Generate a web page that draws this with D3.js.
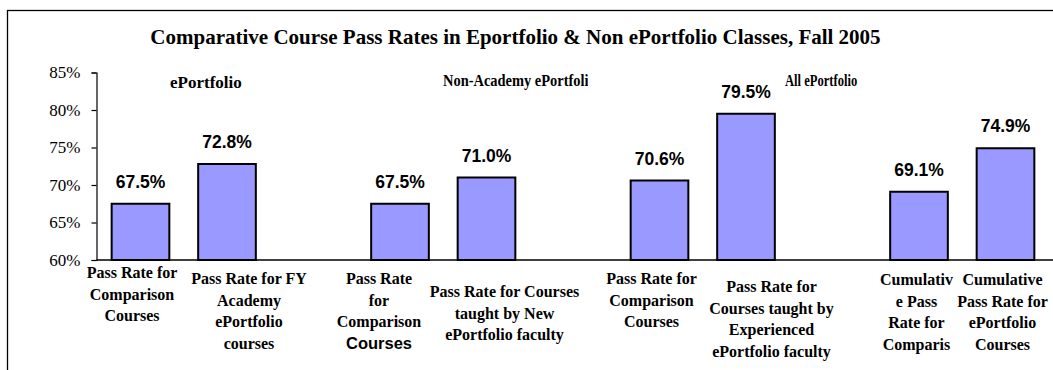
<!DOCTYPE html>
<html>
<head>
<meta charset="utf-8">
<script src="https://cdn.jsdelivr.net/npm/d3@7"></script>
<style>
  html, body { margin: 0; padding: 0; background: #fff; }
  svg { display: block; }
</style>
</head>
<body>
<svg id="chart" width="1053" height="370"></svg>
<script>
// Pass rates by course group (null = spacer slot between groups)
const categoryLabels = [
  ["Pass Rate for", "Comparison", "Courses"],
  ["Pass Rate for FY", "Academy", "ePortfolio", "courses"],
  [],
  ["Pass Rate", "for", "Comparison", "Courses"],
  ["Pass Rate for Courses", "taught by New", "ePortfolio faculty"],
  [],
  ["Pass Rate for", "Comparison", "Courses"],
  ["Pass Rate for", "Courses taught by", "Experienced", "ePortfolio faculty"],
  [],
  ["Cumulativ", "e Pass", "Rate for", "Comparis", "on", "Courses"],
  ["Cumulative", "Pass Rate for", "ePortfolio", "Courses"]
];
const passRates = [0.675, 0.728, null, 0.675, 0.710, null, 0.706, 0.795, null, 0.691, 0.749];
const yTicks = [0.60, 0.65, 0.70, 0.75, 0.80, 0.85];
const groupTitles = ["ePortfolio", "Non-Academy ePortfolio", "All ePortfolio"];
const chartTitle = "Comparative Course Pass Rates in Eportfolio & Non ePortfolio Classes, Fall 2005";

// layout of the wrapped category labels: horizontal nudge from the slot centre
// and baseline of the first line (Excel lays each wrapped block out on its own)
const labelNudge = [-8.5, 22, 0, -21, 18, 0, -8, 25.5, 0, -2.5, -3];
const labelTop   = [278, 284, 0, 284, 297, 0, 284, 292, 0, 285, 285];

const serif = "'Liberation Serif', 'Times New Roman', serif";
const sans = "'Liberation Sans', Arial, sans-serif";

const svg = d3.select("#chart");

// outer chart frame
svg.append("rect")
  .attr("x", 7.5).attr("y", 10.5)
  .attr("width", 1100).attr("height", 400)
  .attr("fill", "none").attr("stroke", "#000").attr("stroke-width", 1.3);

const plot = { left: 96.5, right: 1048.75, top: 72.5, bottom: 260 };

const x = d3.scaleBand()
  .domain(d3.range(passRates.length))
  .range([plot.left + 0.75, plot.right])
  .paddingInner(1 / 3)
  .paddingOuter(1 / 6);

const y = d3.scaleLinear()
  .domain([0.60, 0.85])
  .range([plot.bottom, plot.top]);

// title
svg.append("text")
  .attr("x", 515.5).attr("y", 44)
  .attr("text-anchor", "middle")
  .attr("font-family", serif).attr("font-weight", "bold").attr("font-size", 21)
  .text(chartTitle);

// y axis
const yAxis = svg.append("g")
  .attr("transform", `translate(${plot.left},0)`)
  .call(d3.axisLeft(y).tickValues(yTicks).tickFormat(d3.format(".0%")).tickSize(5).tickPadding(11));
yAxis.select(".domain").attr("stroke", "#000").attr("stroke-width", 1.2);
yAxis.selectAll(".tick line").attr("stroke", "#000").attr("stroke-width", 1.2);
yAxis.selectAll(".tick text")
  .attr("font-family", serif).attr("font-size", 17).attr("fill", "#000");

// bars
const data = passRates.map((v, i) => ({ i, v })).filter(d => d.v !== null);
svg.append("g").selectAll("rect")
  .data(data)
  .join("rect")
  .attr("x", d => x(d.i))
  .attr("y", d => y(d.v))
  .attr("width", x.bandwidth())
  .attr("height", d => y(0.60) - y(d.v))
  .attr("fill", "#9999FF")
  .attr("stroke", "#000")
  .attr("stroke-width", 2);

// x axis line
svg.append("line")
  .attr("x1", plot.left).attr("x2", 1060)
  .attr("y1", plot.bottom).attr("y2", plot.bottom)
  .attr("stroke", "#000").attr("stroke-width", 1.3);

// value labels
svg.append("g").selectAll("text")
  .data(data)
  .join("text")
  .attr("x", d => x(d.i) + x.bandwidth() / 2)
  .attr("y", d => y(d.v) - 16)
  .attr("text-anchor", "middle")
  .attr("font-family", sans).attr("font-weight", "bold").attr("font-size", 17.5)
  .text(d => d3.format(".1%")(d.v));

// category labels (wrapped, clipped to the label area)
svg.append("clipPath").attr("id", "labelClip")
  .append("rect").attr("x", 0).attr("y", 262).attr("width", 1053).attr("height", 101);

const lineHeight = 21.6;
const catG = svg.append("g").attr("clip-path", "url(#labelClip)");
categoryLabels.forEach((lines, i) => {
  if (!lines.length) return;
  const cx = x(i) + x.bandwidth() / 2 + labelNudge[i];
  const t = catG.append("text")
    .attr("text-anchor", "middle")
    .attr("font-family", serif).attr("font-weight", "bold").attr("font-size", 16);
  lines.forEach((ln, k) => {
    const ts = t.append("tspan")
      .attr("x", cx)
      .attr("y", labelTop[i] + k * lineHeight)
      .text(ln);
    // one line in the source workbook was set in a sans face
    if (i === 3 && k === 3) ts.attr("font-family", sans).attr("font-size", 16.5);
  });
});

// group captions (text boxes; set condensed, the middle one clipped by its box)
svg.append("clipPath").attr("id", "boxClip")
  .append("rect").attr("x", 430).attr("y", 60).attr("width", 158).attr("height", 40);

const captions = [
  { x: 170, y: 88, sx: 1.0 },
  { x: 443, y: 86, sx: 0.85 },
  { x: 785, y: 86, sx: 0.74 }
];
groupTitles.forEach((g, k) => {
  const c = captions[k];
  const holder = svg.append("g");
  if (k === 1) holder.attr("clip-path", "url(#boxClip)");
  holder.append("text")
    .attr("transform", `translate(${c.x},${c.y}) scale(${c.sx},1)`)
    .attr("font-family", serif).attr("font-weight", "bold").attr("font-size", 17)
    .text(g);
});
</script>
</body>
</html>
